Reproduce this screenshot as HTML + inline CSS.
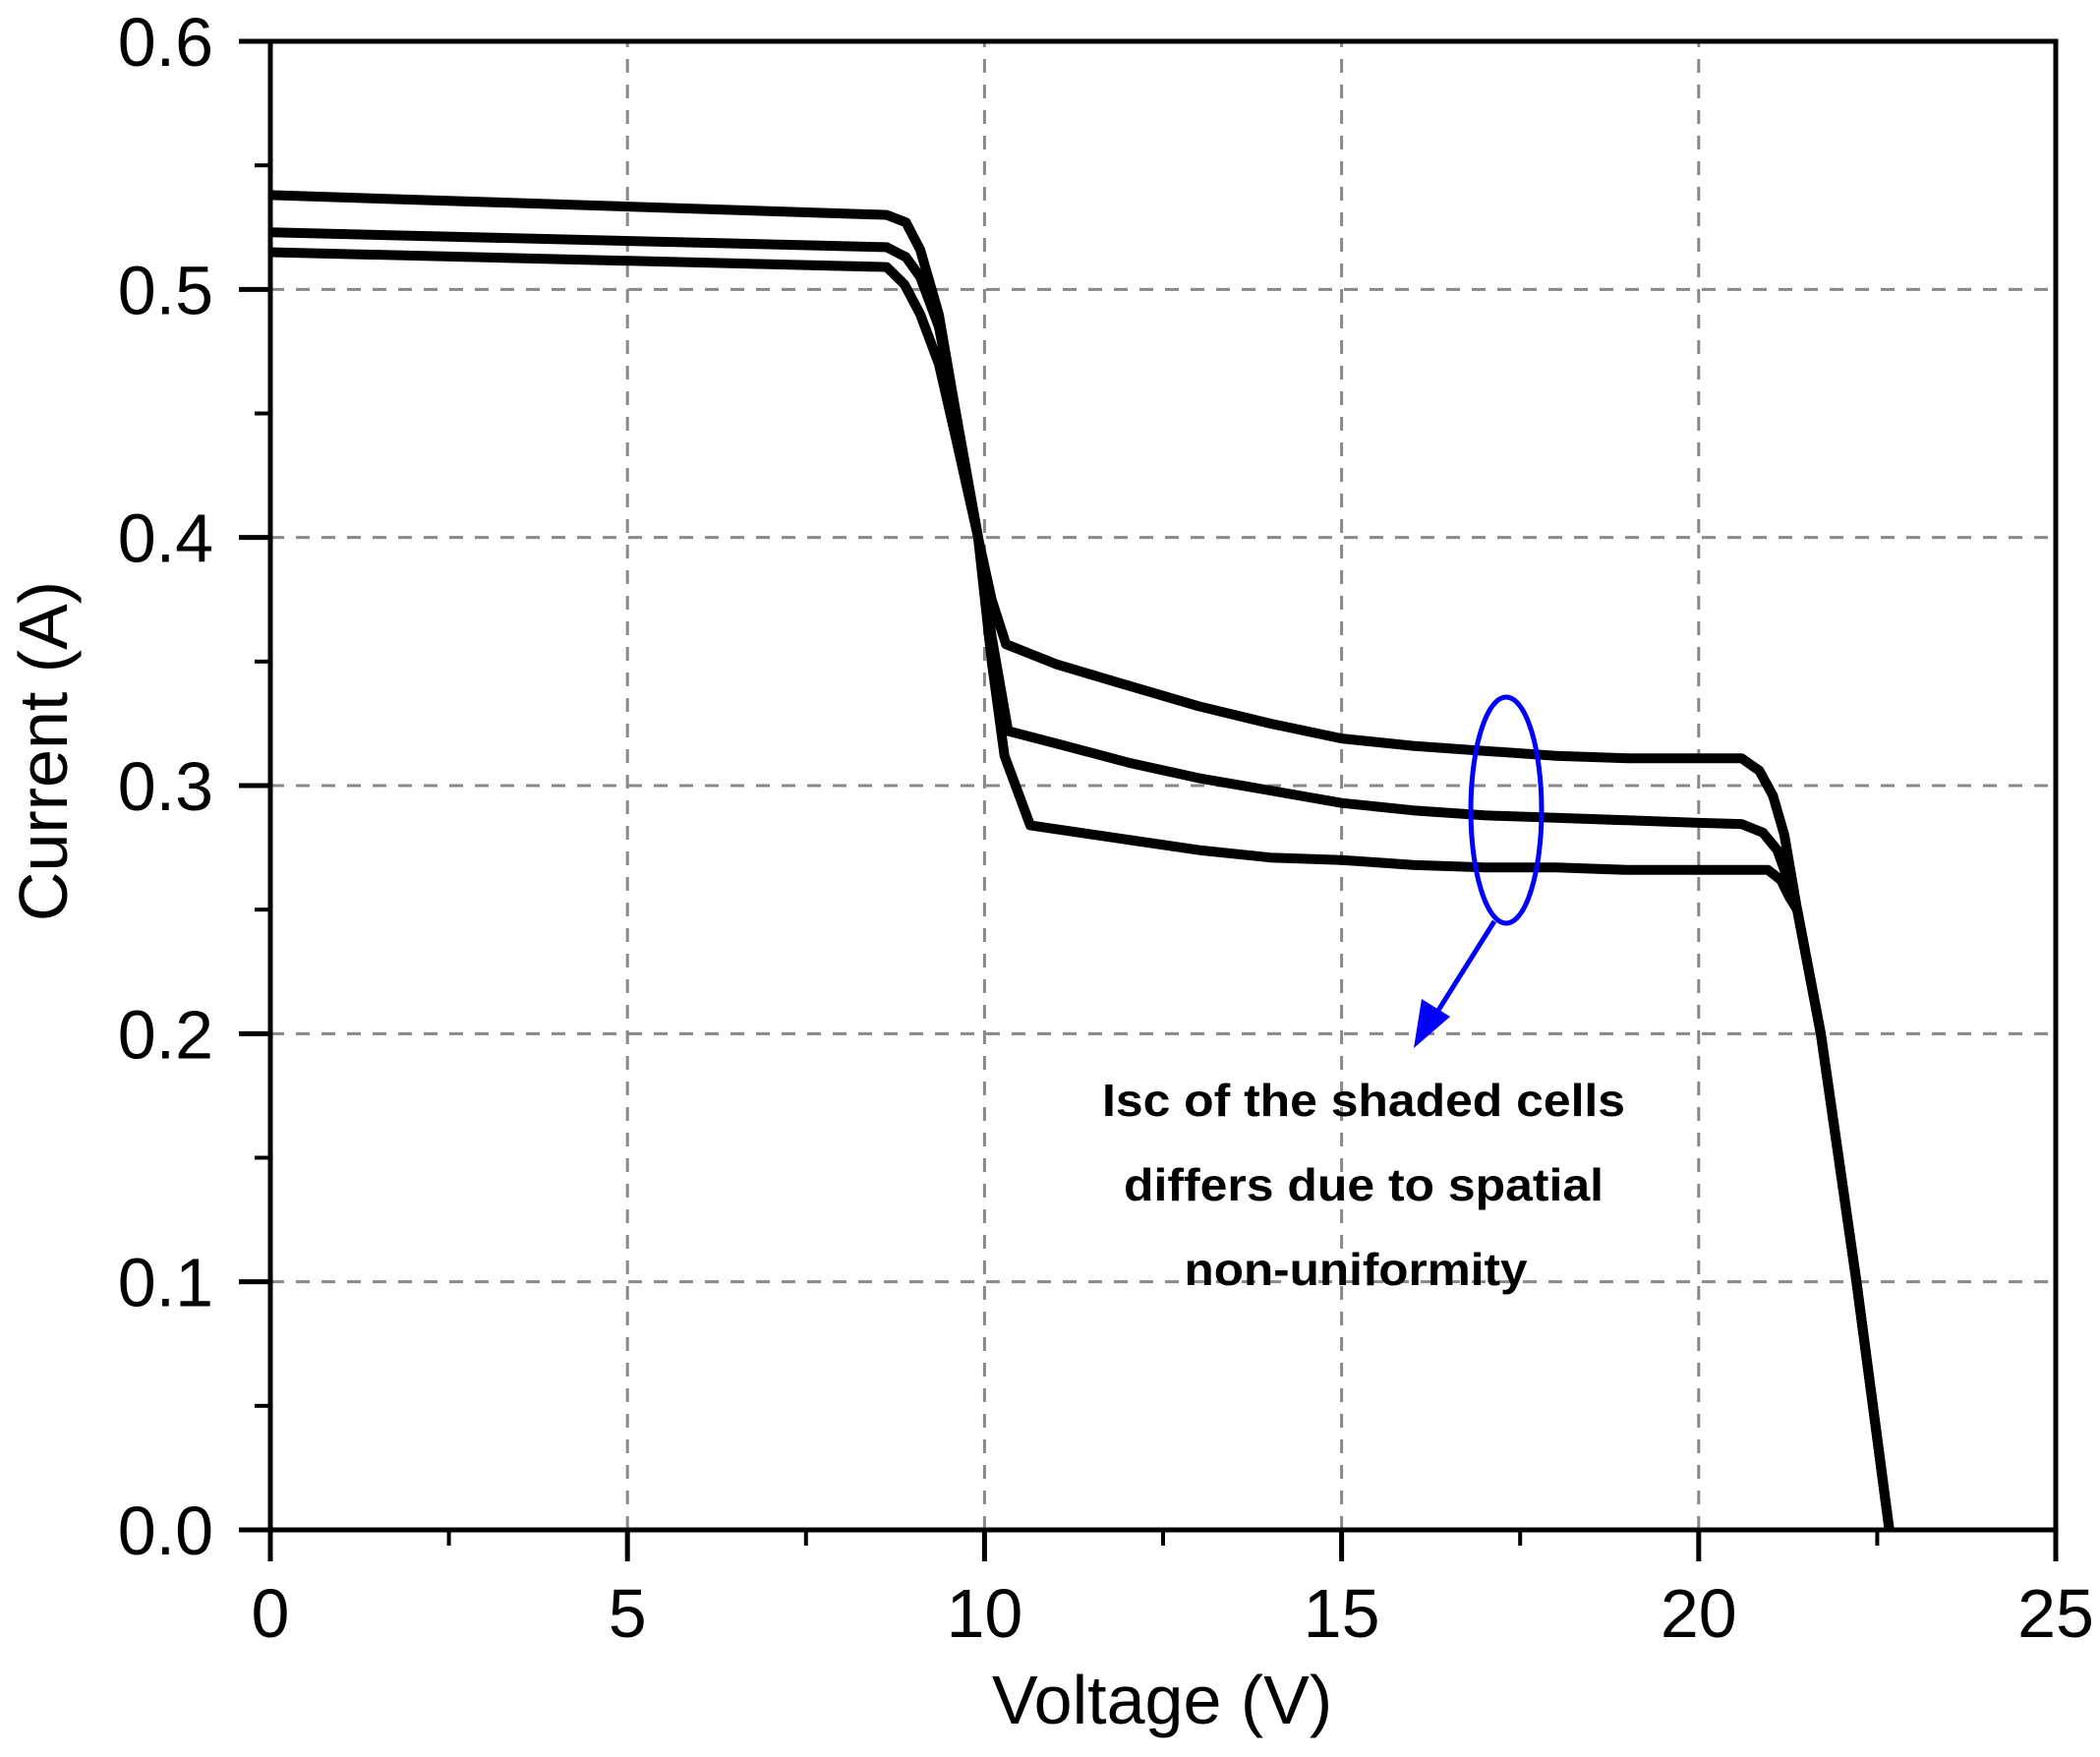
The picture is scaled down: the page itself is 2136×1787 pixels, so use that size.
<!DOCTYPE html>
<html><head><meta charset="utf-8"><style>
html,body{margin:0;padding:0;background:#fff;}
svg{display:block;}
text{font-family:"Liberation Sans",Arial,sans-serif;fill:#000;}
</style></head><body>
<svg id="chart" width="2136" height="1787" viewBox="0 0 2136 1787" xmlns="http://www.w3.org/2000/svg">
<g id="grid"></g>
<g id="series"></g>
<g id="axes"></g>
<g id="annot">
  <ellipse cx="1532" cy="824" rx="36" ry="115" fill="none" stroke="#0000ff" stroke-width="5"/>
  <line x1="1520" y1="937" x2="1452" y2="1045" stroke="#0000ff" stroke-width="5"/>
  <polygon points="1438,1066 1446,1016 1475,1034" fill="#0000ff"/>
  <text x="1387" y="1135" font-size="46" font-weight="bold" text-anchor="middle" textLength="532" lengthAdjust="spacingAndGlyphs">Isc of the shaded cells</text>
  <text x="1387" y="1221" font-size="46" font-weight="bold" text-anchor="middle" textLength="488" lengthAdjust="spacingAndGlyphs">differs due to spatial</text>
  <text x="1379" y="1307" font-size="46" font-weight="bold" text-anchor="middle" textLength="349" lengthAdjust="spacingAndGlyphs">non-uniformity</text>
</g>
<text x="1182" y="1753" font-size="70" text-anchor="middle">Voltage (V)</text>
<text x="0" y="0" font-size="70" text-anchor="middle" transform="translate(68,764) rotate(-90)">Current (A)</text>
</svg>
<script>
const xTicks = [0, 5, 10, 15, 20, 25];
const xTickLabels = ["0", "5", "10", "15", "20", "25"];
const yTicks = [0, 0.1, 0.2, 0.3, 0.4, 0.5, 0.6];
const yTickLabels = ["0.0", "0.1", "0.2", "0.3", "0.4", "0.5", "0.6"];
const curve1V = [0, 8.63, 8.9, 9.1, 9.36, 9.6, 9.91, 10.1, 10.3, 11, 12.05, 13, 14, 15, 16, 17, 18, 19, 20, 20.6, 20.85, 21.04, 21.2, 21.38, 21.71, 22.21, 22.67];
const curve1I = [0.538, 0.530, 0.527, 0.516, 0.49, 0.45, 0.4, 0.375, 0.357, 0.349, 0.340, 0.332, 0.325, 0.319, 0.316, 0.314, 0.312, 0.311, 0.311, 0.311, 0.306, 0.296, 0.28, 0.25, 0.2, 0.1, 0.0];
const curve2V = [0, 8.63, 8.9, 9.1, 9.36, 9.6, 9.91, 10.1, 10.33, 11, 12.05, 13, 14, 15, 16, 17, 18, 19, 20, 20.6, 20.9, 21.1, 21.25, 21.38, 21.71, 22.21, 22.67];
const curve2I = [0.523, 0.517, 0.513, 0.505, 0.485, 0.45, 0.4, 0.36, 0.322, 0.317, 0.309, 0.303, 0.298, 0.293, 0.290, 0.288, 0.287, 0.286, 0.285, 0.2845, 0.281, 0.274, 0.262, 0.25, 0.2, 0.1, 0.0];
const curve3V = [0, 8.63, 8.88, 9.1, 9.36, 9.6, 9.91, 10.1, 10.28, 10.64, 12.05, 13, 14, 15, 16, 17, 18, 19, 20, 20.97, 21.15, 21.27, 21.38, 21.71, 22.21, 22.67];
const curve3I = [0.515, 0.509, 0.502, 0.49, 0.47, 0.44, 0.4, 0.35, 0.312, 0.284, 0.278, 0.274, 0.271, 0.270, 0.268, 0.267, 0.267, 0.266, 0.266, 0.266, 0.262, 0.255, 0.25, 0.2, 0.1, 0.0];

const X0 = 275, X1 = 2091, Y0 = 1556, Y1 = 42;
const xMax = 25, yMax = 0.6;
function sx(v){ return X0 + (v / xMax) * (X1 - X0); }
function sy(a){ return Y0 - (a / yMax) * (Y0 - Y1); }
const NS = "http://www.w3.org/2000/svg";
function mk(tag, attrs, parent){
  const e = document.createElementNS(NS, tag);
  for (const k in attrs) e.setAttribute(k, attrs[k]);
  parent.appendChild(e);
  return e;
}
const grid = document.getElementById('grid');
const axes = document.getElementById('axes');
const series = document.getElementById('series');

xTicks.forEach((t, i) => {
  const x = sx(t);
  if (t > 0 && t < xMax) {
    const g = mk('line', {x1: x, y1: Y0, x2: x, y2: Y1, stroke: '#888', 'stroke-width': 3, 'stroke-dasharray': '14,12'}, grid);
    
    
  }
  const tk = mk('line', {x1: x, y1: Y0, x2: x, y2: Y0 + 32, stroke: '#000', 'stroke-width': 5}, axes);
  
  
  const lb = mk('text', {x: x, y: 1665, 'font-size': 70, 'text-anchor': 'middle'}, axes);
  lb.textContent = xTickLabels[i];
  
  
  if (i < xTicks.length - 1) {
    const m = sx(t + 2.5);
    const mt = mk('line', {x1: m, y1: Y0, x2: m, y2: Y0 + 16, stroke: '#000', 'stroke-width': 4}, axes);
    
    
  }
});
yTicks.forEach((t, i) => {
  const y = sy(t);
  if (t > 0 && t < yMax - 1e-9) {
    const g = mk('line', {x1: X0, y1: y, x2: X1, y2: y, stroke: '#888', 'stroke-width': 3, 'stroke-dasharray': '14,12'}, grid);
    
    
  }
  const tk = mk('line', {x1: X0 - 32, y1: y, x2: X0, y2: y, stroke: '#000', 'stroke-width': 5}, axes);
  
  
  const lb = mk('text', {x: 217, y: y + 25, 'font-size': 70, 'text-anchor': 'end'}, axes);
  lb.textContent = yTickLabels[i];
  
  
  if (i < yTicks.length - 1) {
    const m = sy(t + 0.05);
    const mt = mk('line', {x1: X0 - 16, y1: m, x2: X0, y2: m, stroke: '#000', 'stroke-width': 4}, axes);
    
    
  }
});
const frame = mk('rect', {x: X0, y: Y1, width: X1 - X0, height: Y0 - Y1, fill: 'none', stroke: '#000', 'stroke-width': 5}, axes);



[[curve1V, curve1I, 'iv-curve-1'], [curve2V, curve2I, 'iv-curve-2'], [curve3V, curve3I, 'iv-curve-3']].forEach(c => {
  const pts = c[0].map((v, i) => sx(v).toFixed(1) + ',' + sy(c[1][i]).toFixed(1)).join(' ');
  const p = mk('polyline', {points: pts, fill: 'none', stroke: '#000', 'stroke-width': 10, 'stroke-linejoin': 'round'}, series);
  
  
});
</script>
</body></html>
